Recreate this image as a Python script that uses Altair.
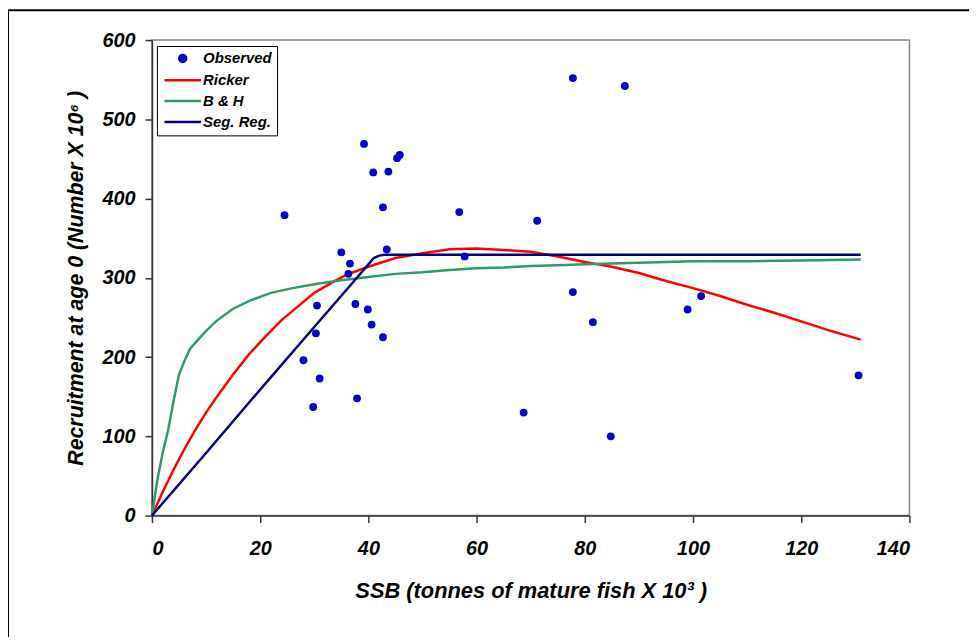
import altair as alt
import pandas as pd

# ---------------- data ----------------
series_names = ["Observed", "Ricker", "B & H", "Seg. Reg."]
series_colors = ["#0000CC", "#FF0000", "#339966", "#000080"]

obs_ssb = [24.5, 30.5, 30.3, 28.0, 31.0, 29.8, 39.2, 45.3, 45.8, 40.9, 43.7, 42.7,
           56.8, 35.0, 43.4, 36.6, 36.3, 57.8, 37.6, 39.9, 40.6, 42.7, 37.9, 68.7,
           77.8, 87.4, 71.2, 77.8, 81.5, 99.0, 101.5, 84.8, 130.6]
obs_rec = [379, 265, 230, 196, 173, 137, 469, 451, 455, 433, 434, 389,
           383, 332, 336, 318, 305, 327, 267, 260, 241, 225, 148, 130,
           552, 542, 372, 282, 244, 260, 277, 100, 177]

ricker_ssb = [0, 2, 4, 6, 8, 10, 12, 15, 18, 21, 24, 27, 30, 33, 36, 40, 45, 50, 55,
              60, 65, 70, 75, 80, 85, 90, 95, 100, 105, 110, 115, 120, 125, 131]
ricker_rec = [0, 30, 58, 84, 108, 130, 150, 178, 204, 226, 247, 264, 281, 293, 304,
              314, 325, 331, 336, 337, 335, 333, 327, 320, 314, 306, 296, 287, 277,
              266, 256, 245, 234, 222]

bh_ssb = [0, 1, 2, 3, 4, 5, 6, 7, 8, 10, 12, 15, 18, 22, 26, 30, 35, 40, 45, 50, 55,
          60, 65, 70, 75, 80, 85, 90, 95, 100, 110, 120, 131]
bh_rec = [0, 45, 80, 108, 145, 178, 195, 210, 218, 233, 246, 261, 271, 281, 287, 292,
          297, 301, 305, 307, 310, 312, 313, 315, 316, 317, 318, 319, 320, 321, 321,
          322, 323]

seg_ssb = [0, 10, 20, 30, 38, 40, 41, 42, 43, 131]
seg_rec = [0, 79, 159, 238, 301, 317, 325, 328, 329, 329]

x_ticks = [0, 20, 40, 60, 80, 100, 120, 140]
y_ticks = [0, 100, 200, 300, 400, 500, 600]

x_title = "SSB (tonnes of mature fish X 10³ )"
y_title = "Recruitment at age 0 (Number X 10⁶ )"

# ---------------- tables ----------------
obs_df = pd.DataFrame({"ssb": obs_ssb, "rec": obs_rec, "series": "Observed"})
ricker_df = pd.DataFrame({"ssb": ricker_ssb, "rec": ricker_rec, "series": "Ricker"})
bh_df = pd.DataFrame({"ssb": bh_ssb, "rec": bh_rec, "series": "B & H"})
seg_df = pd.DataFrame({"ssb": seg_ssb, "rec": seg_rec, "series": "Seg. Reg."})

FONT = "Liberation Sans"

x_enc = alt.X("ssb:Q", title=x_title,
              scale=alt.Scale(domain=[0, 140], nice=False, zero=True),
              axis=alt.Axis(values=x_ticks, grid=False, labelPadding=16,
                            titlePadding=23, titleFontSize=22))
y_enc = alt.Y("rec:Q", title=y_title,
              scale=alt.Scale(domain=[0, 600], nice=False),
              axis=alt.Axis(values=y_ticks, grid=False, labelPadding=10,
                            titlePadding=15, titleFontSize=21.5))

color_scale = alt.Scale(domain=series_names, range=series_colors)
legend = alt.Legend(
    title=None, orient="none", legendX=5, legendY=6,
    strokeColor="black", fillColor="white", padding=5, cornerRadius=0,
    labelFont=FONT, labelFontSize=15, labelFontWeight="bold",
    labelFontStyle="italic", labelColor="black", labelLimit=200,
    symbolStrokeWidth=2.5, symbolSize=50, rowPadding=5,
    symbolOffset=13.5, labelOffset=13,
    symbolOpacity=1,
    symbolStrokeColor={"expr": "scale('color', datum.value)"},
    symbolFillColor={"expr": "scale('color', datum.value)"},
)
color_enc = alt.Color("series:N", scale=color_scale, legend=legend)
shape_enc = alt.Shape(
    "series:N",
    scale=alt.Scale(domain=series_names,
                    range=["circle", "M-5.2,0H5.2", "M-5.2,0H5.2", "M-5.2,0H5.2"]),
    legend=legend)

frame = alt.Chart(pd.DataFrame({"k": [0]})).mark_rect(
    fill="transparent", stroke="black", strokeWidth=2
).encode(x=alt.value(-145), x2=alt.value(1000), y=alt.value(-30), y2=alt.value(800))

def curve(df):
    return alt.Chart(df).mark_line(strokeWidth=2.5).encode(
        x=x_enc, y=y_enc, color=color_enc, order=alt.Order("ssb:Q"))

points = alt.Chart(obs_df).mark_point(filled=True, size=62, opacity=1).encode(
    x=x_enc, y=y_enc, color=color_enc, shape=shape_enc)

chart = alt.layer(frame, curve(ricker_df), curve(bh_df), curve(seg_df), points).properties(
    width=763, height=479,
    background="white",
    autosize=alt.AutoSizeParams(type="none"),
    padding={"left": 145, "top": 30, "right": 60, "bottom": 120},
).configure_view(
    stroke="#888888", strokeWidth=1.5
).configure_axis(
    labelFont=FONT, labelFontSize=20, labelFontWeight="bold", labelFontStyle="italic",
    labelColor="black", titleFont=FONT, titleFontSize=20, titleFontWeight="bold",
    titleFontStyle="italic", titleColor="black", domainColor="#333333",
    domainWidth=1.5, tickColor="#333333", tickWidth=1.5, tickSize=7
)

chart.save("out.html", embed_options={"renderer": "svg", "actions": False})
